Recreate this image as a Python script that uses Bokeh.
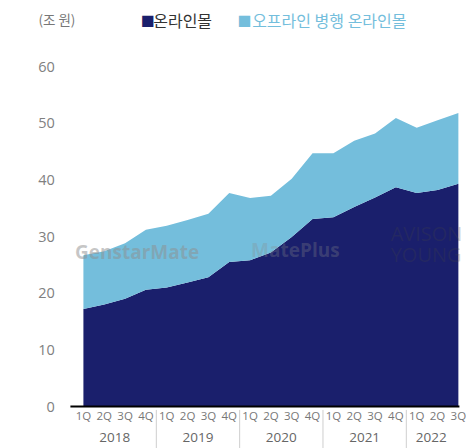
from bokeh.plotting import figure
from bokeh.models import ColumnDataSource, Range1d
from bokeh.core.properties import value
from bokeh.embed import file_html
from bokeh.resources import INLINE

# ---- data -------------------------------------------------------------
quarters = ["1Q", "2Q", "3Q", "4Q"] * 4 + ["1Q", "2Q", "3Q"]
years = ["2018", "2019", "2020", "2021", "2022"]
year_centers = [1.5, 5.5, 9.5, 13.5, 16.7]
year_breaks = [3.5, 7.5, 11.5, 15.5]
online = [17.2, 18.0, 19.0, 20.6, 21.0, 21.9, 22.8, 25.5, 25.8, 27.2,
          29.9, 33.1, 33.4, 35.2, 36.9, 38.7, 37.7, 38.2, 39.3]
offline_parallel = [9.5, 9.4, 9.8, 10.6, 10.9, 11.0, 11.2, 12.2, 11.0, 10.0,
                    10.3, 11.6, 11.3, 11.7, 11.3, 12.2, 11.5, 12.3, 12.5]
series_names = ["온라인몰", "오프라인 병행 온라인몰"]
unit_label = "(조 원)"
y_ticks = [0, 10, 20, 30, 40, 50, 60]

DARK = "#1a1f6c"
LIGHT = "#74bedc"
KFONT = "Noto Sans CJK KR"
NFONT = "Open Sans"

# ---- layout constants (data units of the full-canvas frame) ---------------
X0, X1 = -3.98, 18.39         # whole canvas width
Y0, Y1 = -7.41, 71.65         # whole canvas height
AXIS_LEFT, AXIS_RIGHT = -0.624, 18.05

x = list(range(len(quarters)))
src = ColumnDataSource(dict(x=x, online=online, offline=offline_parallel))

p = figure(width=466, height=448, output_backend="svg", toolbar_location=None,
           x_range=Range1d(X0, X1), y_range=Range1d(Y0, Y1),
           min_border=0, min_border_left=0, min_border_right=0,
           min_border_top=0, min_border_bottom=0)
p.xaxis.visible = False
p.yaxis.visible = False
p.xgrid.visible = False
p.ygrid.visible = False
p.outline_line_color = None
p.background_fill_color = "white"
p.border_fill_color = "white"

p.varea_stack(["online", "offline"], x="x", source=src, color=[DARK, LIGHT])

# watermarks
p.text(x=[-0.4], y=[27.3], text=["GenstarMate"], text_font=value(NFONT),
       text_font_style="bold", text_font_size=value("19px"), text_color="#8e8e8e",
       text_alpha=0.5, text_align="left", text_baseline="middle")
p.text(x=[8.05], y=[27.6], text=["MatePlus"], text_font=value(NFONT),
       text_font_style="bold", text_font_size=value("19px"), text_color="#8a8a8a",
       text_alpha=0.3, text_align="left", text_baseline="middle")
p.text(x=[14.75, 14.75], y=[30.6, 26.9], text=["AVISON", "YOUNG"], text_font=value(NFONT),
       text_font_size=value("20px"), text_color="#444444", text_alpha=0.25,
       text_align="left", text_baseline="middle")

# baseline (x axis line)
p.segment(x0=[AXIS_LEFT], y0=[0], x1=[AXIS_RIGHT], y1=[0], line_color="black", line_width=2)

# year separators
p.segment(x0=year_breaks, y0=[-0.6] * len(year_breaks), x1=year_breaks,
          y1=[Y0] * len(year_breaks), line_color="#cfcfcf", line_width=1)

# quarter labels
p.text(x=x, y=[-1.5] * len(x), text=quarters, text_font=value(NFONT),
       text_font_size=value("11.5px"), text_color="#777777",
       text_align="center", text_baseline="middle")
# year labels
p.text(x=year_centers, y=[-5.5] * len(years), text=years, text_font=value(NFONT),
       text_font_size=value("13.5px"), text_color="#666666",
       text_align="center", text_baseline="middle")

# y tick labels
p.text(x=[-1.37] * len(y_ticks), y=y_ticks, text=[str(t) for t in y_ticks],
       text_font=value(NFONT), text_font_size=value("14.5px"), text_color="#808080",
       text_align="right", text_baseline="middle")

# unit + legend
def lab(txt, xx, yy, color, size="16px"):
    p.text(x=[xx], y=[yy], text=[txt], text_font=value(KFONT),
           text_font_size=value(size), text_color=color,
           text_align="left", text_baseline="middle")

lab(unit_label, -2.16, 68.3, "#777777", "13.5px")
lab("■", 2.75, 68.2, DARK, "14px")
lab(series_names[0], 3.35, 68.2, "#333333")
lab("■", 7.4, 68.2, LIGHT, "14px")
lab(series_names[1], 8.1, 68.2, LIGHT)

open("out.html", "w").write(file_html(p, INLINE))
